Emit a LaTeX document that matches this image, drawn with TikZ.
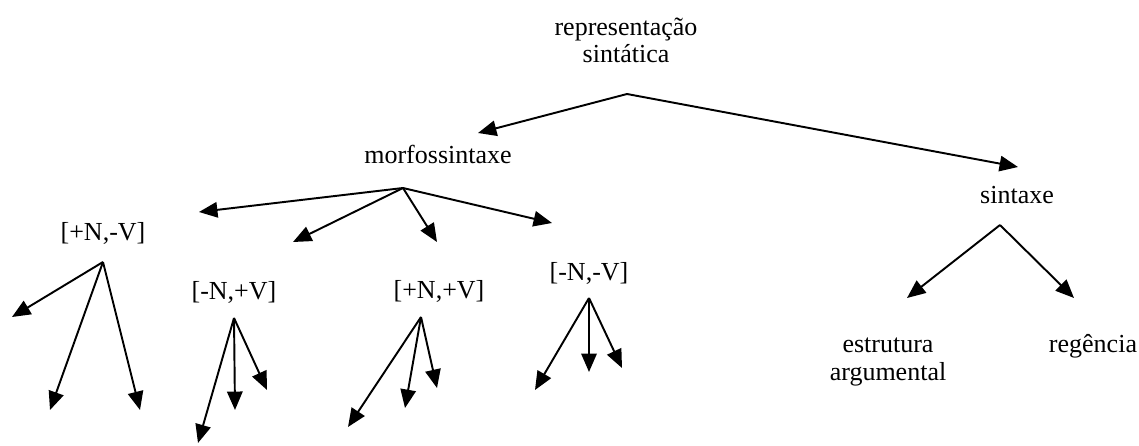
\documentclass[tikz,border=0pt]{standalone}
\usepackage{fontspec}
\setmainfont{Liberation Serif}
\usetikzlibrary{arrows.meta}

\begin{document}
\begin{tikzpicture}[x=0.02cm, y=-0.02cm,
    every node/.style={inner sep=0pt, anchor=base, font=\fontsize{14.8}{15.9}\selectfont},
    branch/.style={line width=1.1pt, -{Triangle[length=10.5pt, width=8.8pt]}}]

        \useasboundingbox (0,0) rectangle (1139,446);

        % labels (base = baseline of the last line)
        \node[align=center] (rep) at (626,63) {representação\\sintática};
        \node (morf) at (438,163) {morfossintaxe};
        \node (sint) at (1017,203) {sintaxe};
        \node (pnmv) at (103,240) {[+N,-V]};
        \node (mnpv) at (234,299) {[-N,+V]};
        \node (pnpv) at (439,298) {[+N,+V]};
        \node (mnmv) at (589,280) {[-N,-V]};
        \node[align=center] (estr) at (888,380) {estrutura\\argumental};
        \node (reg) at (1093,352) {regência};

        % where the arrows start (a) and end (1, 2, ...)
        \coordinate (rep-a) at (627,94);
        \coordinate (rep-1) at (478,133);
        \coordinate (rep-2) at (1018,167);

        \coordinate (morf-a) at (403,188);
        \coordinate (morf-1) at (199,212);
        \coordinate (morf-2) at (293,242);
        \coordinate (morf-3) at (437,242);
        \coordinate (morf-4) at (552,223);

        \coordinate (sint-a) at (1000,225);
        \coordinate (sint-1) at (907,298);
        \coordinate (sint-2) at (1074,298);

        \coordinate (pnmv-a) at (103,262);
        \coordinate (pnmv-1) at (12,317);
        \coordinate (pnmv-2) at (50,410);
        \coordinate (pnmv-3) at (140,410);

        \coordinate (mnpv-a) at (234,318);
        \coordinate (mnpv-1) at (198,443);
        \coordinate (mnpv-2) at (235,410);
        \coordinate (mnpv-3) at (267,390);

        \coordinate (pnpv-a) at (421,317);
        \coordinate (pnpv-1) at (348,427);
        \coordinate (pnpv-2) at (405,408);
        \coordinate (pnpv-3) at (437,388);

        \coordinate (mnmv-a) at (589,298);
        \coordinate (mnmv-1) at (535,390);
        \coordinate (mnmv-2) at (589,372);
        \coordinate (mnmv-3) at (622,368);

        \foreach \p/\n in {rep/2, morf/4, sint/2, pnmv/3, mnpv/3, pnpv/3, mnmv/3} {
          \foreach \k in {1,...,\n} {
            \draw[branch] (\p-a) -- (\p-\k);
          }
        }

      \end{tikzpicture}
\end{document}
